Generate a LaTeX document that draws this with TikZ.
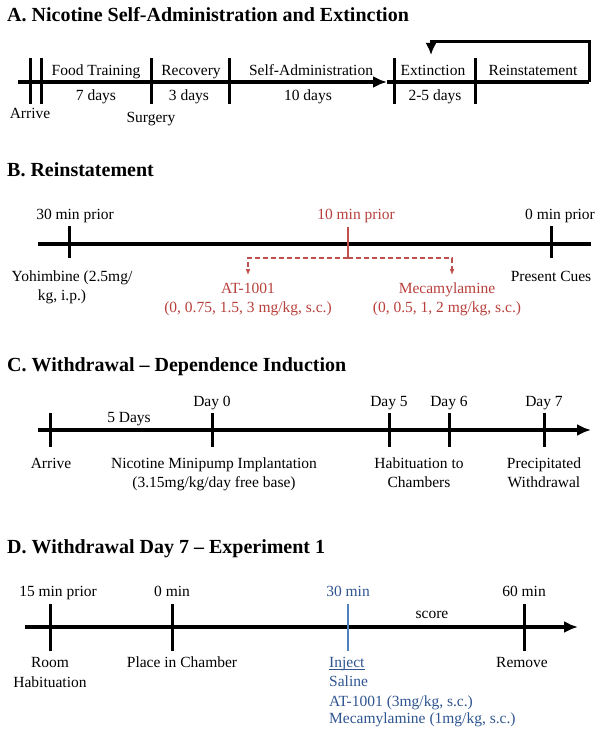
\documentclass[tikz,border=0pt]{standalone}
\usepackage{fontspec}
\setmainfont{Liberation Serif}
\usetikzlibrary{arrows.meta}
\definecolor{axred}{HTML}{C0504D}
\definecolor{txtred}{HTML}{B8403C}
\definecolor{axblue}{HTML}{4F81BD}
\definecolor{txtblue}{HTML}{2F5590}
\tikzset{>={Latex[length=14pt,width=12pt]}}
\tikzset{
  axis/.style={line width=4pt},
  tickmark/.style={line width=3pt},
  lbl/.style={font=\fontsize{15.5}{19}\selectfont,inner sep=0pt,anchor=base},
  ttl/.style={font=\fontsize{20}{24}\selectfont\bfseries,inner sep=0pt,anchor=base west}
}

\begin{document}
\begin{tikzpicture}[x=1pt,y=-1pt]
  \useasboundingbox[fill=white] (0,0) rectangle (604,733);

  % A. self-administration and extinction
  \node[ttl] (ttlA) at (7,21.5) {A. Nicotine Self-Administration and Extinction};
  \coordinate (a0) at (18,82);
  \coordinate (a1) at (387,82);
  \coordinate (a2) at (589,82);
  \coordinate (a3) at (589,42);
  \coordinate (a4) at (431,42);
  \coordinate (a5) at (431,55);
  \draw[axis,->] (a0) -- (a1);
  \draw[axis] (a1) -- (a2);
  \draw[line width=3pt,->,>={Latex[length=12pt,width=11pt]}] (a2) -- (a3) -- (a4) -- (a5);
  \foreach \x in {30,41,151,229,394,475}
    \draw[tickmark] (\x,58) -- (\x,104);
  \node[lbl] (food) at (96,76) {Food Training};
  \node[lbl] (recov) at (191,76) {Recovery};
  \node[lbl] (selfadm) at (311,76) {Self-Administration};
  \node[lbl] (extinct) at (433,76) {Extinction};
  \node[lbl] (reinst) at (533,76) {Reinstatement};
  \node[lbl] (dfood) at (96,101) {7 days};
  \node[lbl] (drecov) at (189,101) {3 days};
  \node[lbl] (dself) at (308,101) {10 days};
  \node[lbl] (dext) at (435,101) {2-5 days};
  \node[lbl] (arriveA) at (30,119) {Arrive};
  \node[lbl] (surgery) at (151,122) {Surgery};

  % B. reinstatement
  \node[ttl] (ttlB) at (7,176.5) {B. Reinstatement};
  \coordinate (b0) at (38,244);
  \coordinate (b1) at (591,244);
  \draw[axis] (b0) -- (b1);
  \foreach \x in {69,551}
    \draw[tickmark] (\x,226) -- (\x,258);
  \coordinate (bmid) at (348,227);
  \coordinate (bsplit) at (348,258);
  \coordinate (bl) at (248,258);
  \coordinate (br) at (452,258);
  \coordinate (blt) at (248,275);
  \coordinate (brt) at (452,275);
  \draw[line width=2.5pt,axred] (bmid) -- (bsplit);
  \draw[axred,line width=1.5pt,dash pattern=on 5pt off 3pt,->,>={Latex[length=6pt,width=5pt]}] (bsplit) -- (bl) -- (blt);
  \draw[axred,line width=1.5pt,dash pattern=on 5pt off 3pt,->,>={Latex[length=6pt,width=5pt]}] (bsplit) -- (br) -- (brt);
  \node[lbl] (t30) at (75,219) {30 min prior};
  \node[lbl,txtred] (t10) at (356,219) {10 min prior};
  \node[lbl] (t0) at (560,219) {0 min prior};
  \node[lbl] (yoh) at (72,281) {Yohimbine (2.5mg/};
  \node[lbl] (yohdose) at (62,300) {kg, i.p.)};
  \node[lbl] (cues) at (551,281) {Present Cues};
  \node[lbl,txtred] (at) at (248,293) {AT-1001};
  \node[lbl,txtred] (atdose) at (248,312) {(0, 0.75, 1.5, 3 mg/kg, s.c.)};
  \node[lbl,txtred] (mec) at (447,293) {Mecamylamine};
  \node[lbl,txtred] (mecdose) at (447,312) {(0, 0.5, 1, 2 mg/kg, s.c.)};

  % C. dependence induction
  \node[ttl] (ttlC) at (7,371.5) {C. Withdrawal -- Dependence Induction};
  \coordinate (c0) at (38,430);
  \coordinate (c1) at (591,430);
  \draw[axis,->] (c0) -- (c1);
  \foreach \x in {50,212,389,449,544}
    \draw[tickmark] (\x,413) -- (\x,447);
  \node[lbl] (day0) at (212,406) {Day 0};
  \node[lbl] (day5) at (389,406) {Day 5};
  \node[lbl] (day6) at (449,406) {Day 6};
  \node[lbl] (day7) at (544,406) {Day 7};
  \node[lbl] (fivedays) at (129,422) {5 Days};
  \node[lbl] (arriveC) at (51,468) {Arrive};
  \node[lbl] (pump) at (214,468) {Nicotine Minipump Implantation};
  \node[lbl] (pumpdose) at (214,487) {(3.15mg/kg/day free base)};
  \node[lbl] (hab) at (419,468) {Habituation to};
  \node[lbl] (habch) at (419,487) {Chambers};
  \node[lbl] (precip) at (544,468) {Precipitated};
  \node[lbl] (precipw) at (544,487) {Withdrawal};

  % D. withdrawal day 7
  \node[ttl] (ttlD) at (7,553.5) {D. Withdrawal Day 7 -- Experiment 1};
  \coordinate (d0) at (25,627);
  \coordinate (d1) at (578,627);
  \draw[axis,->] (d0) -- (d1);
  \foreach \x in {50,172,524}
    \draw[tickmark] (\x,604) -- (\x,651);
  \draw[line width=2.5pt,axblue] (348,604) -- (348,651);
  \node[lbl] (m15) at (58,596) {15 min prior};
  \node[lbl] (m0) at (172,596) {0 min};
  \node[lbl,txtblue] (m30) at (348,596) {30 min};
  \node[lbl] (m60) at (524,596) {60 min};
  \node[lbl] (score) at (432,618) {score};
  \node[lbl] (room) at (50,667) {Room};
  \node[lbl] (roomhab) at (50,687) {Habituation};
  \node[lbl] (place) at (182,667) {Place in Chamber};
  \node[lbl] (remove) at (522,667) {Remove};
  \node[lbl,txtblue,anchor=base west] (inject) at (329,667) {Inject};
  \draw[txtblue,line width=0.8pt] ([yshift=-2pt]inject.base west) -- ([yshift=-2pt]inject.base east);
  \node[lbl,txtblue,anchor=base west] (saline) at (329,686) {Saline};
  \node[lbl,txtblue,anchor=base west] (atD) at (329,706) {AT-1001 (3mg/kg, s.c.)};
  \node[lbl,txtblue,anchor=base west] (mecD) at (329,723) {Mecamylamine (1mg/kg, s.c.)};
\end{tikzpicture}
\end{document}
